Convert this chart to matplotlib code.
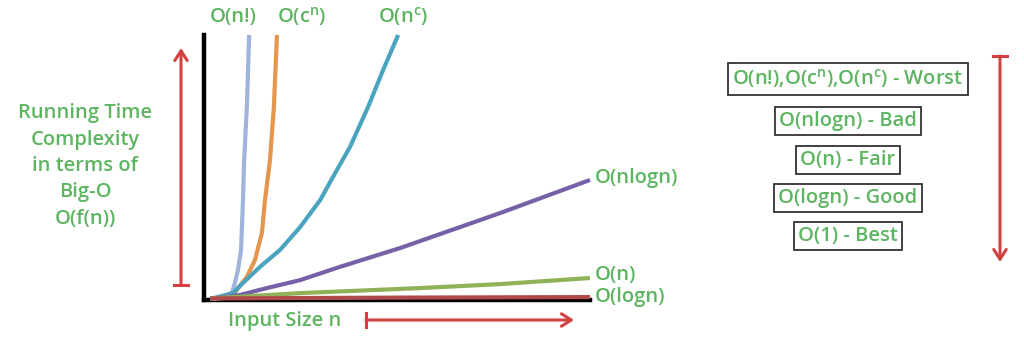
import matplotlib
matplotlib.use("Agg")
import matplotlib.pyplot as plt
from matplotlib.lines import Line2D

# curves, x = input size, y = running time (both 0..100)
fact_x = [1.6, 4.9, 7.3, 8.0, 8.8, 9.6, 10.1, 10.4, 11.1, 11.7]
fact_y = [0.4, 0.8, 3.0, 6.4, 11.3, 18.9, 37.7, 52.8, 72.8, 100]
expo_x = [1.6, 7.3, 8.8, 11.1, 13.2, 15.0, 15.8, 17.1, 18.1, 18.9]
expo_y = [0.4, 1.1, 4.5, 8.7, 15.1, 25.3, 37.7, 52.8, 72.8, 100]
poly_x = [1.6, 7.5, 10.1, 14.5, 19.7, 24.9, 30.1, 33.4, 37.8, 42.5, 46.4, 50.3]
poly_y = [0.4, 2.6, 6.4, 12.5, 18.9, 27.5, 37.7, 46.4, 57.7, 72.8, 86.8, 100]
nlogn_x = [1.6, 9.3, 16.3, 24.9, 35.2, 50.8, 76.7, 100]
nlogn_y = [0.4, 1.9, 4.5, 7.5, 12.5, 19.6, 32.8, 45.3]
lin_x = [1.6, 24.9, 56.0, 76.7, 100]
lin_y = [0.6, 2.6, 4.5, 6.0, 8.3]
log_x = [1.6, 50, 100]
log_y = [0.6, 0.9, 1.1]

top_labels = ['O(n!)', 'O(c$^n$)', 'O(n$^c$)']
side_labels = ['O(nlogn)', 'O(n)', 'O(logn)']
y_title = 'Running Time\nComplexity\nin terms of\nBig-O\nO(f(n))'
x_title = 'Input Size n'
legend_rows = ['O(n!),O(c$^n$),O(n$^c$) - Worst', 'O(nlogn) - Bad',
               'O(n) - Fair', 'O(logn) - Good', 'O(1) - Best']

plt.rcParams['font.family'] = ['Open Sans', 'DejaVu Sans']
plt.rcParams['mathtext.fontset'] = 'custom'
plt.rcParams['mathtext.rm'] = 'Open Sans:semibold'
plt.rcParams['mathtext.it'] = 'Open Sans:semibold'
plt.rcParams['mathtext.bf'] = 'Open Sans:semibold'
plt.rcParams['mathtext.default'] = 'regular'

W, H = 1024, 346
green = '#5db561'
red = '#d2413f'


def fx(px):
    return px / W


def fy(py):
    return 1 - py / H


def red_arrow(fig, start, end):
    """ arrow with a flat bar at the start and an open head at the end """
    (x0, y0), (x1, y1) = start, end
    fig.add_artist(plt.Annotation(
        '', xy=(fx(x1), fy(y1)), xytext=(fx(x0), fy(y0)),
        xycoords='figure fraction', textcoords='figure fraction',
        arrowprops=dict(arrowstyle='->,head_length=0.7,head_width=0.45',
                        color=red, lw=2.2, shrinkA=0, shrinkB=0)))
    if x0 == x1:
        bx, by = [fx(x0 - 7), fx(x0 + 7)], [fy(y0), fy(y0)]
    else:
        bx, by = [fx(x0), fx(x0)], [fy(y0 - 7), fy(y0 + 7)]
    fig.add_artist(Line2D(bx, by, color=red, lw=2.2, transform=fig.transFigure))


fig = plt.figure(figsize=(W / 100, H / 100), dpi=100)
ax = fig.add_axes([fx(204), fy(300), (590 - 204) / W, (300 - 35) / H])
ax.set_xlim(0, 100)
ax.set_ylim(0, 100)
ax.set_xticks([])
ax.set_yticks([])
for s in ['top', 'right']:
    ax.spines[s].set_visible(False)
for s in ['left', 'bottom']:
    ax.spines[s].set_linewidth(3.2)
    ax.spines[s].set_color('black')

curves = [(fact_x, fact_y, '#9fb3dc'), (expo_x, expo_y, '#e6954c'),
          (poly_x, poly_y, '#4ba4bf'), (nlogn_x, nlogn_y, '#7661a8'),
          (lin_x, lin_y, '#8fb157'), (log_x, log_y, '#b04a4a')]
for x, y, c in curves:
    ax.plot(x, y, color=c, lw=3, solid_capstyle='butt', solid_joinstyle='round',
            clip_on=False, zorder=3)

tfont = dict(color=green, fontsize=14.5, fontweight='semibold')
for lab, px in zip(top_labels, [233, 302, 403]):
    fig.text(fx(px), fy(17), lab, ha='center', va='center', **tfont)
for lab, py in zip(side_labels, [178, 275, 297]):
    fig.text(fx(595), fy(py), lab, ha='left', va='center', **tfont)

fig.text(fx(85), fy(166), y_title, ha='center', va='center',
         linespacing=1.42, **tfont)
fig.text(fx(285), fy(321), x_title, ha='center', va='center', **tfont)

red_arrow(fig, (181, 285), (181, 48))
red_arrow(fig, (366, 320), (574, 320))
red_arrow(fig, (1000, 56), (1000, 262))

box = dict(boxstyle='square,pad=0.2', fc='white', ec='#333333', lw=1.3)
for lab, py in zip(legend_rows, [79, 121, 160, 198, 236]):
    fig.text(fx(848), fy(py), lab, ha='center', va='center', bbox=box, **tfont)

fig.savefig('out.png', dpi=100)
